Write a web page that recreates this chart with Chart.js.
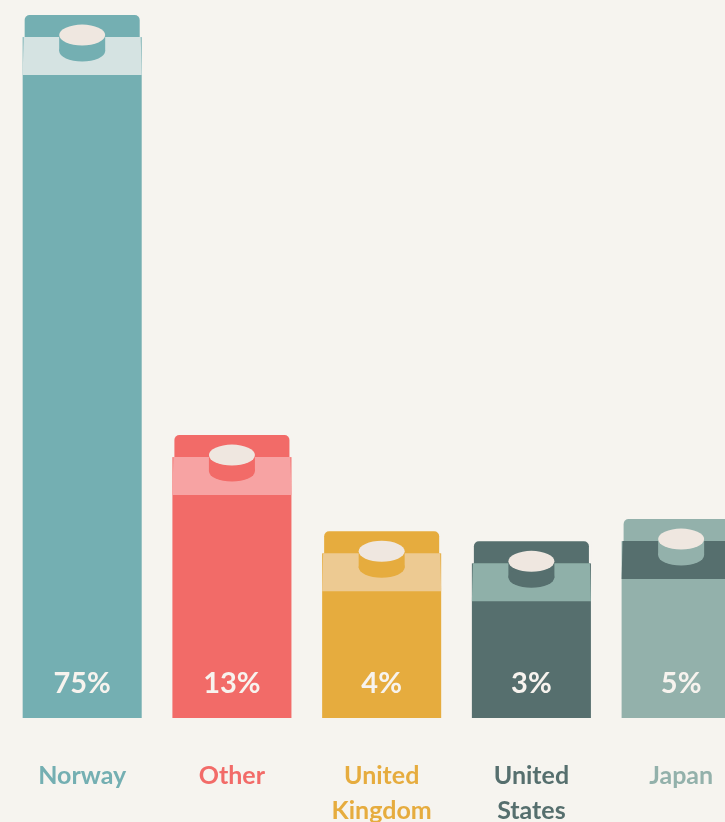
<!DOCTYPE html>
<html>
<head>
<meta charset="utf-8">
<script src="https://cdn.jsdelivr.net/npm/chart.js@4/dist/chart.umd.min.js"></script>
<style>
  html, body { margin: 0; padding: 0; background: #f6f4ef; overflow: hidden; }
  #wrap { width: 758px; height: 868px; margin-left: -2px; }
</style>
</head>
<body>
<div id="wrap"><canvas id="cartons" width="758" height="868"></canvas></div>
<script>
// categories, shown under each carton
const countries = [['Norway'], ['Other'], ['United', 'Kingdom'], ['United', 'States'], ['Japan']]
// share printed on each carton
const shares = [75, 13, 4, 3, 5]
// carton height (0-100 scale)
const cartonHeights = [97.9, 39.4, 26.0, 24.6, 27.7]

const bodyColors = ['#74afb2', '#f26b68', '#e6ac3e', '#566f6e', '#93b1ab']
const bandColors = ['#d5e3e2', '#f7a3a3', '#edca92', '#8fb0a9', '#566f6e']
const bg = '#f6f4ef'
const capColor = '#efe7e0'

const cartonPlugin = {
    id: 'carton',
    afterDatasetsDraw(chart) {
        const ctx = chart.ctx
        const meta = chart.getDatasetMeta(0)
        meta.data.forEach((bar, i) => {
            const w = bar.width
            const left = bar.x - w / 2
            const right = bar.x + w / 2
            const top = bar.y

            ctx.save()
            // inset top strip
            ctx.fillStyle = bg
            ctx.fillRect(left - 1, top - 1, w + 2, 23)
            ctx.fillStyle = bodyColors[i]
            ctx.beginPath()
            ctx.roundRect(left + 2, top, w - 4, 23, [5, 5, 0, 0])
            ctx.fill()

            // light band
            ctx.fillStyle = bandColors[i]
            ctx.beginPath()
            ctx.moveTo(left + 1, top + 22)
            ctx.lineTo(right - 1, top + 22)
            ctx.lineTo(right, top + 60)
            ctx.lineTo(left, top + 60)
            ctx.closePath()
            ctx.fill()

            // cap
            const cx = bar.x, cy = top + 20, rx = 23, ry = 10.5, h = 16
            ctx.fillStyle = bodyColors[i]
            ctx.fillRect(cx - rx, cy, rx * 2, h)
            ctx.beginPath()
            ctx.ellipse(cx, cy + h, rx, ry, 0, 0, Math.PI * 2)
            ctx.fill()
            ctx.fillStyle = capColor
            ctx.beginPath()
            ctx.ellipse(cx, cy, rx, ry, 0, 0, Math.PI * 2)
            ctx.fill()

            // share label
            ctx.fillStyle = '#f7f3ee'
            ctx.font = 'bold 29px Lato'
            ctx.textAlign = 'center'
            ctx.textBaseline = 'middle'
            ctx.fillText(shares[i] + '%', bar.x, bar.base - 34)
            ctx.restore()
        })
    }
}

new Chart(document.getElementById('cartons'), {
    type: 'bar',
    data: {
        labels: countries,
        datasets: [{
            data: cartonHeights,
            backgroundColor: bodyColors,
            borderRadius: { topLeft: 5, topRight: 5 },
            borderSkipped: 'bottom',
            barPercentage: 0.795,
            categoryPercentage: 1
        }]
    },
    options: {
        responsive: false,
        animation: false,
        layout: { padding: { left: 2, right: 0, top: 0, bottom: 0 } },
        plugins: { legend: { display: false }, tooltip: { enabled: false } },
        scales: {
            x: {
                grid: { display: false, drawTicks: false },
                border: { display: false },
                ticks: {
                    color: ctx => bodyColors[ctx.index],
                    font: { family: 'Lato', size: 25, weight: 'bold', lineHeight: 1.4 },
                    padding: 40,
                    autoSkip: false,
                    maxRotation: 0
                }
            },
            y: { display: false, min: 0, max: 100 }
        }
    },
    plugins: [cartonPlugin]
})
</script>
</body>
</html>
